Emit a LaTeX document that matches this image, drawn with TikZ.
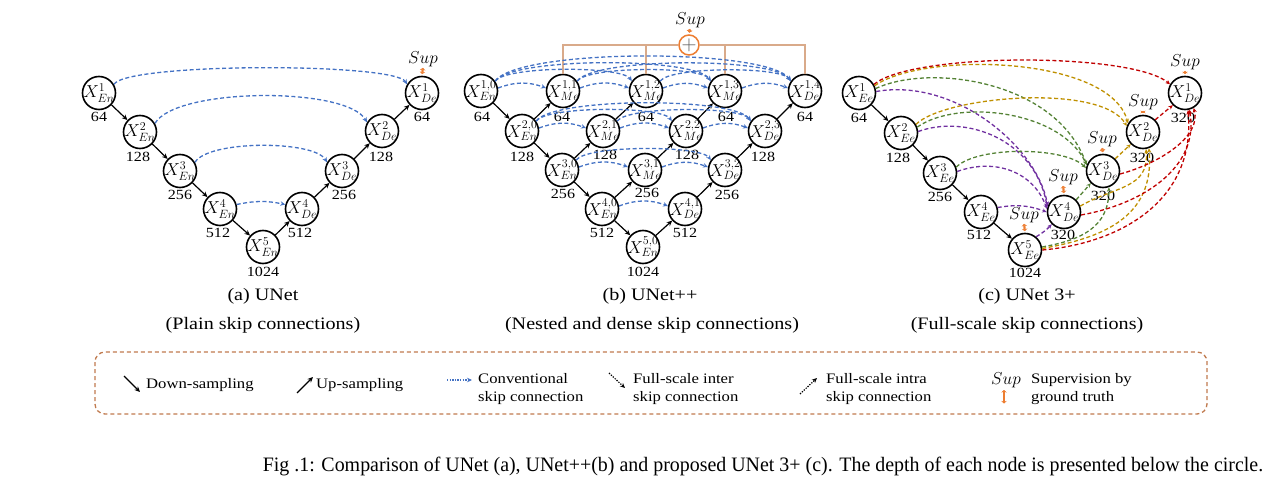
\documentclass[tikz,border=0pt]{standalone}
\usepackage{fontspec}
\setmainfont{Liberation Serif}
\newfontfamily\labfont{Liberation Serif}[FakeStretch=1.15]
\newfontfamily\capfont{Liberation Serif}[FakeStretch=0.972]
\usetikzlibrary{arrows.meta}
\definecolor{skipblue}{HTML}{4472C4}
\definecolor{suporange}{HTML}{ED7D31}
\definecolor{tanline}{HTML}{D9AA8A}
\definecolor{boxbrown}{HTML}{C07A4E}
\definecolor{cpurple}{HTML}{7030A0}
\definecolor{cgreen}{HTML}{548235}
\definecolor{cgold}{HTML}{BF9000}
\definecolor{cred}{HTML}{C00000}
\tikzset{
  nd/.style={circle, draw, line width=1.6pt, minimum size=33pt, inner sep=-5pt, fill=white, font=\fontsize{17}{17}\selectfont},
  num/.style={inner sep=0pt, font=\labfont\fontsize{14}{14}\selectfont},
  supt/.style={inner sep=0pt, font=\fontsize{16}{16}\selectfont},
  arr/.style={line width=1.2pt, -{Stealth[length=5.5pt,width=5pt]}},
  skip/.style={skipblue, line width=1.3pt, dash pattern=on 4pt off 2.5pt, -{Stealth[length=5pt,width=4.5pt]}},
  fs/.style={line width=1.3pt, dash pattern=on 4pt off 2.5pt, -{Stealth[length=4.5pt,width=4pt]}},
  dotarr/.style={line width=1.2pt, dash pattern=on 1.3pt off 1.3pt, -{Stealth[length=5pt,width=4.5pt]}},
  suparr/.style={suporange, line width=2.2pt, {Stealth[length=2.5pt,width=5.5pt]}-{Stealth[length=2.5pt,width=5.5pt]}, shorten <=1pt, shorten >=1.5pt},
  ltxt/.style={anchor=west, inner sep=0pt, align=left, font=\labfont\fontsize{14.5}{18}\selectfont},
  captxt/.style={inner sep=0pt, font=\labfont\fontsize{17.5}{18}\selectfont},
  tan/.style={tanline, line width=1.8pt},
}
\begin{document}
\begin{tikzpicture}[x=1pt,y=1pt]
\useasboundingbox (0,0) rectangle (1275,-489);

% ================= (a) UNet =================
\node[nd] (aE1) at (99,-93) {$X^{1}_{En}$};
\node[nd] (aE2) at (140,-132) {$X^{2}_{En}$};
\node[nd] (aE3) at (180,-171) {$X^{3}_{En}$};
\node[nd] (aE4) at (220,-209) {$X^{4}_{En}$};
\node[nd] (aE5) at (263,-247) {$X^{5}_{En}$};
\node[nd] (aD4) at (302,-209) {$X^{4}_{De}$};
\node[nd] (aD3) at (342,-171) {$X^{3}_{De}$};
\node[nd] (aD2) at (382,-131) {$X^{2}_{De}$};
\node[nd] (aD1) at (422,-93) {$X^{1}_{De}$};
\node[num] (naE1) at (99,-117) {64};
\node[num] (naE2) at (138,-157) {128};
\node[num] (naE3) at (180,-195) {256};
\node[num] (naE4) at (218,-233) {512};
\node[num] (naE5) at (263,-272) {1024};
\node[num] (naD4) at (300,-233) {512};
\node[num] (naD3) at (344,-195) {256};
\node[num] (naD2) at (381,-157) {128};
\node[num] (naD1) at (422,-117) {64};
\node[supt] (asup) at (423,-59) {$Sup$};
\draw[suparr] (asup.south) -- (aD1.north);
\draw[arr] (aE1) -- (aE2);
\draw[arr] (aE2) -- (aE3);
\draw[arr] (aE3) -- (aE4);
\draw[arr] (aE4) -- (aE5);
\draw[arr] (aE5) -- (aD4);
\draw[arr] (aD4) -- (aD3);
\draw[arr] (aD3) -- (aD2);
\draw[arr] (aD2) -- (aD1);
\draw[skip] (aE1.30) to[out=60,in=120,looseness=0.22] (aD1.150);
\draw[skip] (aE2.30) to[out=60,in=120,looseness=0.5] (aD2.150);
\draw[skip] (aE3.30) to[out=60,in=120,looseness=0.5] (aD3.150);
\draw[skip] (aE4.15) to[bend left=12] (aD4.165);

% ================= (b) UNet++ =================
\node[nd] (b10) at (481,-91) {$X^{1,0}_{En}$};
\node[nd] (b11) at (563,-91) {$X^{1,1}_{Me}$};
\node[nd] (b12) at (646,-91) {$X^{1,2}_{Me}$};
\node[nd] (b13) at (725,-91) {$X^{1,3}_{Me}$};
\node[nd] (b14) at (805,-91) {$X^{1,4}_{De}$};
\node[nd] (b20) at (522,-131) {$X^{2,0}_{En}$};
\node[nd] (b21) at (603,-131) {$X^{2,1}_{Me}$};
\node[nd] (b22) at (686,-131) {$X^{2,2}_{Me}$};
\node[nd] (b23) at (765,-131) {$X^{2,3}_{De}$};
\node[nd] (b30) at (562,-170) {$X^{3,0}_{En}$};
\node[nd] (b31) at (645,-170) {$X^{3,1}_{Me}$};
\node[nd] (b32) at (725,-170) {$X^{3,2}_{De}$};
\node[nd] (b40) at (602,-209) {$X^{4,0}_{En}$};
\node[nd] (b41) at (685,-209) {$X^{4,1}_{De}$};
\node[nd] (b50) at (643,-247) {$X^{5,0}_{En}$};
\node[num] (nb10) at (482,-117) {64};
\node[num] (nb11) at (562,-117) {64};
\node[num] (nb12) at (646,-117) {64};
\node[num] (nb13) at (726,-117) {64};
\node[num] (nb14) at (805,-117) {64};
\node[num] (nb20) at (522,-157) {128};
\node[num] (nb21) at (605,-155) {128};
\node[num] (nb22) at (687,-155) {128};
\node[num] (nb23) at (763,-157) {128};
\node[num] (nb30) at (563,-194) {256};
\node[num] (nb31) at (647,-193) {256};
\node[num] (nb32) at (727,-195) {256};
\node[num] (nb40) at (602,-233) {512};
\node[num] (nb41) at (685,-233) {512};
\node[num] (nb50) at (643,-272) {1024};

\node[circle, draw=suporange, line width=1.5pt, minimum size=20pt, inner sep=0pt, fill=white, text=black!65, font=\fontsize{20}{20}\selectfont] (sum) at (689,-45) {$+$};
\draw[tan] (b11.north) |- (sum.west);
\draw[tan] (b12.north) |- (sum.west);
\draw[tan] (b13.north) |- (sum.east);
\draw[tan] (b14.north) |- (sum.east);
\node[supt] (bsup) at (690,-20) {$Sup$};
\draw[suparr] (bsup.south) -- (sum.north);

% down / up sampling
\draw[arr] (b10) -- (b20);
\draw[arr] (b20) -- (b30);
\draw[arr] (b30) -- (b40);
\draw[arr] (b40) -- (b50);
\draw[arr] (b20) -- (b11);
\draw[arr] (b30) -- (b21);
\draw[arr] (b40) -- (b31);
\draw[arr] (b50) -- (b41);
\draw[arr] (b21) -- (b12);
\draw[arr] (b31) -- (b22);
\draw[arr] (b41) -- (b32);
\draw[arr] (b22) -- (b13);
\draw[arr] (b32) -- (b23);
\draw[arr] (b23) -- (b14);

% dense skip connections
\foreach \r/\n in {1/4,2/3,3/2,4/1}{
  \foreach \j in {0,...,\n}{
    \foreach \k in {0,...,\n}{
      \pgfmathtruncatemacro{\dd}{\k-\j}
      \ifnum\dd=1
        \draw[skip] (b\r\j.10) to[bend left=20] (b\r\k.170);
      \fi
      \ifnum\dd>1
        \draw[skip] (b\r\j.35) to[out=55,in=125,looseness=0.35] (b\r\k.145);
      \fi
    }
  }
}

% ================= (c) UNet 3+ =================
\node[nd] (cE1) at (859,-93) {$X^{1}_{Ee}$};
\node[nd] (cE2) at (901,-133) {$X^{2}_{Ee}$};
\node[nd] (cE3) at (940,-173) {$X^{3}_{Ee}$};
\node[nd] (cE4) at (981,-212) {$X^{4}_{Ee}$};
\node[nd] (cE5) at (1025,-250) {$X^{5}_{Ee}$};
\node[nd] (cD4) at (1064,-212) {$X^{4}_{De}$};
\node[nd] (cD3) at (1103,-171) {$X^{3}_{De}$};
\node[nd] (cD2) at (1143,-132) {$X^{2}_{De}$};
\node[nd] (cD1) at (1185,-93) {$X^{1}_{De}$};
\node[num] (ncE1) at (859,-118) {64};
\node[num] (ncE2) at (898,-158) {128};
\node[num] (ncE3) at (940,-197) {256};
\node[num] (ncE4) at (979,-235) {512};
\node[num] (ncE5) at (1025,-273) {1024};
\node[num] (ncD4) at (1063,-235) {320};
\node[num] (ncD3) at (1103,-196) {320};
\node[num] (ncD2) at (1142,-158) {320};
\node[num] (ncD1) at (1183,-118) {320};
\node[supt] (csE5) at (1024,-215) {$Sup$};
\node[supt] (csD4) at (1063,-177) {$Sup$};
\node[supt] (csD3) at (1102,-139) {$Sup$};
\node[supt] (csD2) at (1143,-102) {$Sup$};
\node[supt] (csD1) at (1185,-62) {$Sup$};
\draw[suparr] (csE5.south) -- (cE5.north);
\draw[suparr] (csD4.south) -- (cD4.north);
\draw[suparr] (csD3.south) -- (cD3.north);
\draw[suparr] (csD2.south) -- (cD2.north);
\draw[suparr] (csD1.south) -- (cD1.north);
\draw[arr] (cE1) -- (cE2);
\draw[arr] (cE2) -- (cE3);
\draw[arr] (cE3) -- (cE4);
\draw[arr] (cE4) -- (cE5);

\draw[fs, cred] (cE1.30) .. controls +(40:50) and +(140:50) .. (cD1.150);
\draw[fs, cgold] (cE1.25) .. controls +(35:60) and +(105:70) .. (cD2.150);
\draw[fs, cgreen] (cE1.15) .. controls +(25:60) and +(110:90) .. (cD3.160);
\draw[fs, cpurple] (cE1.5) .. controls +(10:80) and +(100:60) .. (cD4.160);
\draw[fs, cgold] (cE2.30) .. controls +(45:40) and +(120:50) .. (cD2.160);
\draw[fs, cgreen] (cE2.20) .. controls +(35:50) and +(115:60) .. (cD3.160);
\draw[fs, cpurple] (cE2.5) .. controls +(20:50) and +(100:70) .. (cD4.165);
\draw[fs, cgreen] (cE3.20) .. controls +(45:30) and +(135:30) .. (cD3.170);
\draw[fs, cpurple] (cE3.5) .. controls +(20:40) and +(110:40) .. (cD4.170);
\draw[fs, cpurple] (cE4.15) to[bend left=15] (cD4.180);
\draw[fs, cpurple] (cE5.50) to[bend right=8] (cD4.225);
\draw[fs, cgreen] (cE5.10) .. controls +(10:40) and +(-90:40) .. (cD3.290);
\draw[fs, cgold] (cE5.5) .. controls +(10:60) and +(-85:70) .. (cD2.290);
\draw[fs, cred] (cE5.0) .. controls +(5:80) and +(-85:90) .. (cD1.280);
\draw[fs, cgreen] (cD4.45) -- (cD3.225);
\draw[fs, cgold] (cD4.20) .. controls +(30:40) and +(-85:40) .. (cD2.280);
\draw[fs, cred] (cD4.350) .. controls +(10:60) and +(-80:60) .. (cD1.285);
\draw[fs, cgold] (cD3.45) -- (cD2.225);
\draw[fs, cred] (cD3.350) .. controls +(15:40) and +(-75:30) .. (cD1.300);
\draw[fs, cred] (cD2.45) -- (cD1.225);

% ================= panel captions =================
\node[captxt] (capa1) at (263,-296) {(a) UNet};
\node[captxt] (capa2) at (263,-325) {(Plain skip connections)};
\node[captxt] (capb1) at (650,-296) {(b) UNet++};
\node[captxt] (capb2) at (652,-325) {(Nested and dense skip connections)};
\node[captxt] (capc1) at (1027,-296) {(c) UNet 3+};
\node[captxt] (capc2) at (1027,-325) {(Full-scale skip connections)};

% ================= legend =================
\draw[boxbrown, line width=1.3pt, dash pattern=on 4pt off 3pt, rounded corners=10pt] (95,-352) rectangle (1207,-414);
\coordinate (l1a) at (124,-376); \coordinate (l1b) at (140,-392);
\draw[arr] (l1a) -- (l1b);
\node[ltxt] (l1t) at (146,-385) {Down-sampling};
\coordinate (l2a) at (297,-393); \coordinate (l2b) at (313,-377);
\draw[arr] (l2a) -- (l2b);
\node[ltxt] (l2t) at (316,-385) {Up-sampling};
\coordinate (l3a) at (447,-380); \coordinate (l3b) at (472,-380);
\draw[dotarr, skipblue] (l3a) -- (l3b);
\node[ltxt] (l3t) at (478,-389) {Conventional\\skip connection};
\coordinate (l4a) at (609,-373); \coordinate (l4b) at (625,-388);
\draw[dotarr] (l4a) -- (l4b);
\node[ltxt] (l4t) at (633,-389) {Full-scale inter\\skip connection};
\coordinate (l5a) at (800,-394); \coordinate (l5b) at (817,-378);
\draw[dotarr] (l5a) -- (l5b);
\node[ltxt] (l5t) at (826,-389) {Full-scale intra\\skip connection};
\node[supt] (l6s) at (1006,-380) {$Sup$};
\coordinate (l6a) at (1004,-389); \coordinate (l6b) at (1004,-405);
\draw[suparr] (l6a) -- (l6b);
\node[ltxt] (l6t) at (1031,-389) {Supervision by\\ground truth};

% ================= figure caption =================
\node[inner sep=0pt, font=\capfont\fontsize{20.5}{21}\selectfont] (figcap) at (763,-466) {Fig .1: Comparison of UNet (a), UNet++(b) and proposed UNet 3+ (c). The depth of each node is presented below the circle.};
\end{tikzpicture}
\end{document}
